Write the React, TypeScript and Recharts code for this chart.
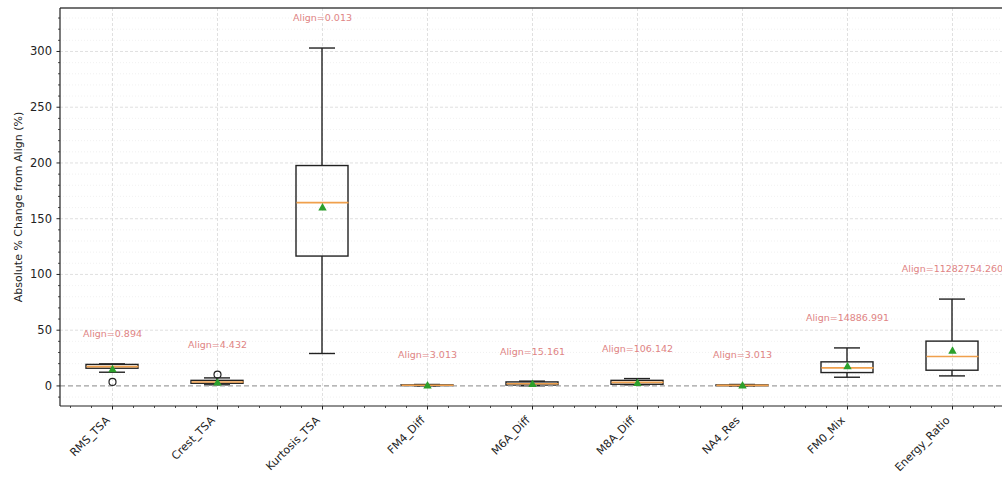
import { Bar, CartesianGrid, ComposedChart, ReferenceLine, Scatter, XAxis, YAxis } from "recharts";

// ── Data ──────────────────────────────────────────────────────────────────────
const NAMES = [
  "RMS_TSA",
  "Crest_TSA",
  "Kurtosis_TSA",
  "FM4_Diff",
  "M6A_Diff",
  "M8A_Diff",
  "NA4_Res",
  "FM0_Mix",
  "Energy_Ratio",
];
const POS = [1, 2, 3, 4, 5, 6, 7, 8, 9];
const WHISKER_LO = [12.3, 1.0, 29.1, 0.0, 0.1, 1.0, 0.0, 7.8, 9.0];
const Q1 = [15.9, 2.4, 116.5, 0.3, 0.8, 1.5, 0.2, 12.0, 14.1];
const MEDIAN = [17.3, 3.5, 164.4, 0.6, 2.0, 3.2, 0.5, 16.2, 26.4];
const Q3 = [19.3, 5.0, 197.7, 0.9, 3.6, 5.0, 0.9, 21.6, 40.2];
const WHISKER_HI = [19.8, 7.2, 303.1, 1.3, 4.3, 6.6, 1.3, 34.1, 77.9];
const MEAN = [15.0, 3.0, 160.0, 0.5, 1.8, 2.7, 0.5, 17.7, 31.5];
const ALIGN = [
  "0.894",
  "4.432",
  "0.013",
  "3.013",
  "15.161",
  "106.142",
  "3.013",
  "14886.991",
  "11282754.260",
];

// fliers
const OUTLIER_POS = [1, 2];
const OUTLIER_VAL = [3.6, 10.2];

const Y_MAJOR = [0, 50, 100, 150, 200, 250, 300];
const Y_TITLE = "Absolute % Change from Align (%)";

// ── Layout / theme ────────────────────────────────────────────────────────────
const W = 1010;
const H = 478;
const X_DOMAIN: [number, number] = [0.5, 9.5];
const Y_DOMAIN: [number, number] = [-18, 339];
const BOX_W = 52;
const CAP_W = 26;
const LABEL_PAD = 27;
const FONT = "DejaVu Sans, sans-serif";
const INK = "#222";
const MEDIAN_COLOR = "#f0a04c";
const MEAN_COLOR = "#2ca02c";
const NOTE_COLOR = "#e08484";

const Y_MINOR: number[] = [];
for (let v = -10; v <= 330; v += 10) Y_MINOR.push(v);
const X_TICKS: number[] = [];
for (let i = 0; i <= 44; i++) X_TICKS.push(Math.round((0.6 + i * 0.2) * 10) / 10);

const rows = NAMES.map((name, i) => {
  const fl = OUTLIER_VAL.filter((_, j) => OUTLIER_POS[j] === POS[i]);
  const top = Math.max(WHISKER_HI[i], ...fl);
  return {
    name,
    pos: POS[i],
    lo: WHISKER_LO[i],
    q1: Q1[i],
    median: MEDIAN[i],
    q3: Q3[i],
    hi: WHISKER_HI[i],
    mean: MEAN[i],
    labelY: top + LABEL_PAD,
    label: `Align=${ALIGN[i]}`,
  };
});
const fliers = OUTLIER_POS.map((pos, i) => ({ pos, value: OUTLIER_VAL[i] }));

// ── Shapes ────────────────────────────────────────────────────────────────────
const BoxShape = (p: any) => (
  <rect x={p.x} y={p.y} width={p.width} height={Math.max(p.height, 0.5)} fill="none" stroke={INK} strokeWidth={1.4} />
);

const LowerWhisker = (p: any) => {
  const cx = p.x + p.width / 2;
  const yb = p.y + p.height;
  return (
    <g stroke={INK} strokeWidth={1.4}>
      <line x1={cx} x2={cx} y1={p.y} y2={yb} />
      <line x1={cx - CAP_W / 2} x2={cx + CAP_W / 2} y1={yb} y2={yb} />
    </g>
  );
};

const UpperWhisker = (p: any) => {
  const cx = p.x + p.width / 2;
  return (
    <g stroke={INK} strokeWidth={1.4}>
      <line x1={cx} x2={cx} y1={p.y} y2={p.y + p.height} />
      <line x1={cx - CAP_W / 2} x2={cx + CAP_W / 2} y1={p.y} y2={p.y} />
    </g>
  );
};

const MedianShape = (p: any) => (
  <line x1={p.cx - BOX_W / 2} x2={p.cx + BOX_W / 2} y1={p.cy} y2={p.cy} stroke={MEDIAN_COLOR} strokeWidth={1.6} />
);

const MeanShape = (p: any) => (
  <polygon
    points={`${p.cx},${p.cy - 4.5} ${p.cx - 4.2},${p.cy + 3} ${p.cx + 4.2},${p.cy + 3}`}
    fill={MEAN_COLOR}
  />
);

const FlierShape = (p: any) => (
  <circle cx={p.cx} cy={p.cy} r={3.5} fill="none" stroke={INK} strokeWidth={1.2} />
);

const NoteShape = (p: any) => (
  <text x={p.cx} y={p.cy} textAnchor="middle" dominantBaseline="central" fontSize={9.5} fontFamily={FONT} fill={NOTE_COLOR}>
    {p.payload.label}
  </text>
);

// ── Ticks ─────────────────────────────────────────────────────────────────────
const XTick = ({ x, y, payload }: any) => {
  const v = payload.value as number;
  const major = Math.abs(v - Math.round(v)) < 1e-6;
  const tx = x - 2;
  const ty = y + 15;
  return (
    <g>
      <line x1={x} x2={x} y1={y} y2={y + (major ? 3.5 : 2)} stroke={INK} strokeWidth={major ? 1 : 0.8} />
      {major && (
        <text
          x={tx}
          y={ty}
          textAnchor="end"
          fontSize={11}
          fontFamily={FONT}
          fill={INK}
          transform={`rotate(-45 ${tx} ${ty})`}
        >
          {NAMES[Math.round(v) - 1]}
        </text>
      )}
    </g>
  );
};

const YTick = ({ x, y, payload }: any) => {
  const v = payload.value as number;
  const major = Y_MAJOR.includes(v);
  return (
    <g>
      <line x1={x} x2={x - (major ? 3.5 : 2)} y1={y} y2={y} stroke={INK} strokeWidth={major ? 1 : 0.8} />
      {major && (
        <text x={x - 8} y={y} textAnchor="end" dominantBaseline="central" fontSize={11.5} fontFamily={FONT} fill={INK}>
          {v}
        </text>
      )}
    </g>
  );
};

const YTitle = ({ viewBox }: any) => {
  const cx = viewBox.x + 18;
  const cy = viewBox.y + viewBox.height / 2;
  return (
    <text
      x={cx}
      y={cy}
      textAnchor="middle"
      dominantBaseline="central"
      fontSize={11}
      fontFamily={FONT}
      fill={INK}
      transform={`rotate(-90 ${cx} ${cy})`}
    >
      {Y_TITLE}
    </text>
  );
};

export default function App() {
  return (
    <div
      style={{
        position: "absolute",
        left: 0,
        top: 0,
        width: 1002,
        height: 478,
        overflow: "hidden",
        background: "#fff",
      }}
    >
      <ComposedChart width={W} height={H} data={rows} margin={{ top: 8, right: 5, bottom: 0, left: 0 }}>
        <XAxis
          xAxisId="main"
          dataKey="pos"
          type="number"
          domain={X_DOMAIN}
          allowDataOverflow
          ticks={X_TICKS}
          interval={0}
          tickSize={0}
          tickMargin={0}
          tick={<XTick />}
          height={72}
          axisLine={{ stroke: INK, strokeWidth: 1.2 }}
        />
        <XAxis xAxisId="wlo" dataKey="pos" type="number" domain={X_DOMAIN} allowDataOverflow hide height={0} />
        <XAxis xAxisId="whi" dataKey="pos" type="number" domain={X_DOMAIN} allowDataOverflow hide height={0} />
        <XAxis xAxisId="box" dataKey="pos" type="number" domain={X_DOMAIN} allowDataOverflow hide height={0} />
        <YAxis
          type="number"
          domain={Y_DOMAIN}
          allowDataOverflow
          ticks={Y_MINOR}
          interval={0}
          tickSize={0}
          tickMargin={0}
          tick={<YTick />}
          width={60}
          axisLine={{ stroke: INK, strokeWidth: 1.2 }}
          label={{ content: <YTitle /> }}
        />

        {/* grid: faint minor rows, dashed major rows and columns */}
        <CartesianGrid
          xAxisId="main"
          vertical={false}
          horizontalValues={Y_MINOR.filter((v) => !Y_MAJOR.includes(v))}
          stroke="#eeeeee"
          strokeWidth={0.8}
          strokeDasharray="1 2"
        />
        <CartesianGrid
          xAxisId="main"
          horizontalValues={Y_MAJOR.filter((v) => v !== 0)}
          verticalValues={POS}
          stroke="#dcdcdc"
          strokeWidth={0.9}
          strokeDasharray="3 2"
        />

        {/* boxes */}
        <Bar xAxisId="wlo" dataKey={(d: any) => [d.lo, d.q1]} barSize={BOX_W} shape={<LowerWhisker />} isAnimationActive={false} />
        <Bar xAxisId="whi" dataKey={(d: any) => [d.q3, d.hi]} barSize={BOX_W} shape={<UpperWhisker />} isAnimationActive={false} />
        <Bar xAxisId="box" dataKey={(d: any) => [d.q1, d.q3]} barSize={BOX_W} shape={<BoxShape />} isAnimationActive={false} />
        <Scatter xAxisId="main" dataKey="median" shape={<MedianShape />} isAnimationActive={false} />
        <Scatter xAxisId="main" dataKey="mean" shape={<MeanShape />} isAnimationActive={false} />
        <Scatter xAxisId="main" data={fliers} dataKey="value" shape={<FlierShape />} isAnimationActive={false} />
        <Scatter xAxisId="main" dataKey="labelY" shape={<NoteShape />} isAnimationActive={false} />

        <ReferenceLine xAxisId="main" y={0} stroke="#a0a0a0" strokeWidth={1.2} strokeDasharray="5 3" />
        <ReferenceLine xAxisId="main" y={Y_DOMAIN[1]} stroke="#444" strokeWidth={1.6} />
      </ComposedChart>
    </div>
  );
}
